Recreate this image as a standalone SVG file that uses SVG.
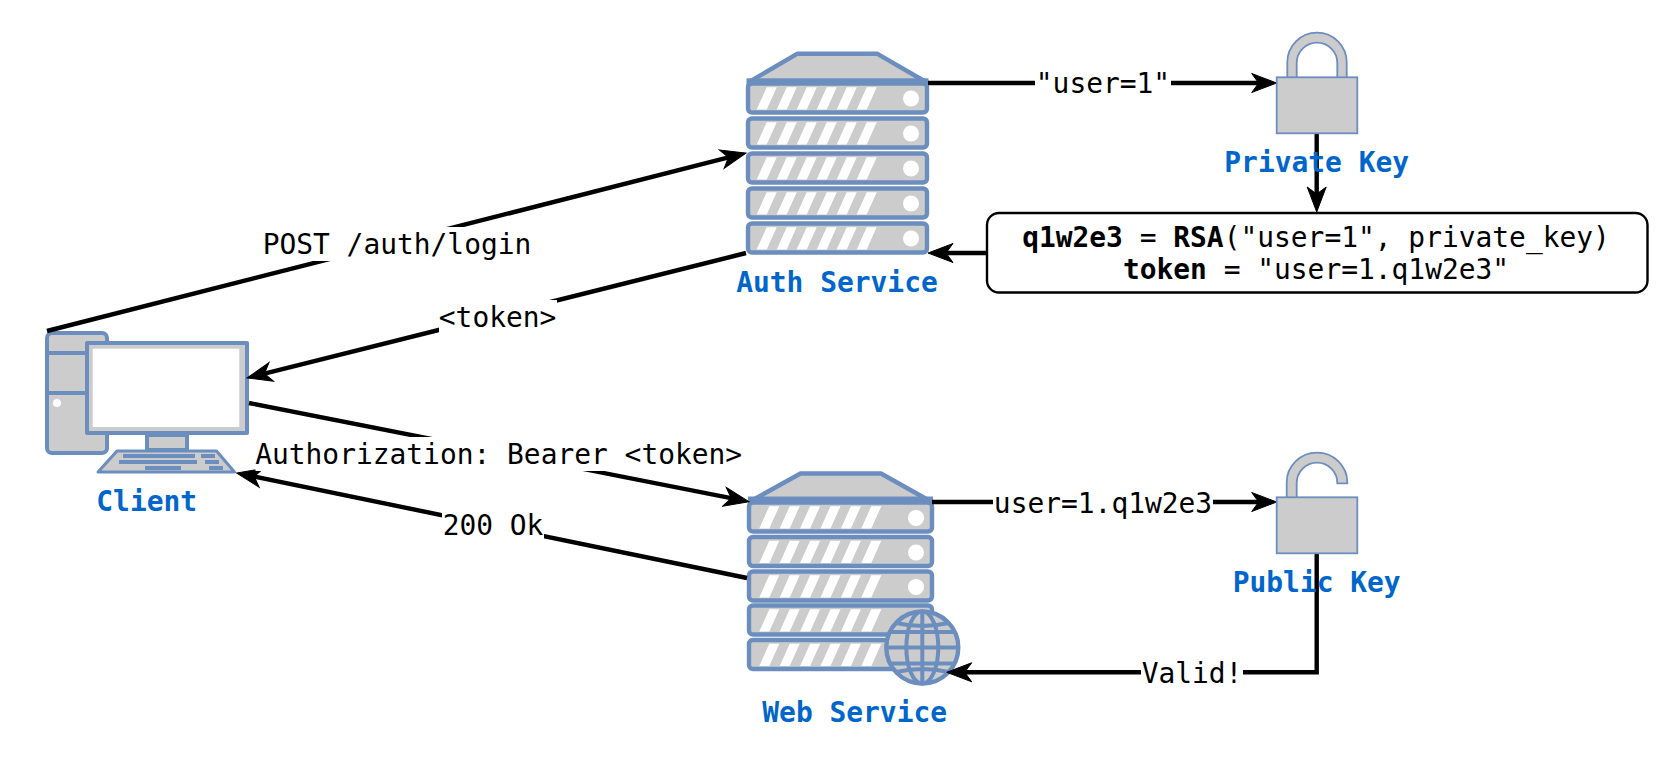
<svg xmlns="http://www.w3.org/2000/svg" width="1678" height="758" viewBox="0 0 1678 758">
<style>
.shape{fill:#cccccc;stroke:#6c8ebf;stroke-width:4.4;stroke-linejoin:round}
.pc{fill:#cccccc;stroke:#6c8ebf;stroke-width:4;stroke-linejoin:round}
.kb{fill:#cccccc;stroke:#6c8ebf;stroke-width:3;stroke-linejoin:round}
.thin{fill:#cccccc;stroke:#6c8ebf;stroke-width:1.8}
.bar{fill:#6c8ebf;stroke:none}
.hole{fill:#ffffff;stroke:none}
.line{fill:none;stroke:#000000;stroke-width:4.4}
.blue{fill:none;stroke:#6c8ebf;stroke-width:4}
.arrow{marker-end:url(#head)}
.mask{fill:#ffffff;stroke:none}
text{font-family:"DejaVu Sans Mono","Liberation Mono",monospace;font-size:27.9px;text-anchor:middle;fill:#000000}
.name{font-weight:bold;fill:#0066cc}
.b{font-weight:bold}
</style>
<defs>
<marker id="head" markerUnits="userSpaceOnUse" markerWidth="29" markerHeight="23" refX="9" refY="11" orient="auto" viewBox="0 0 29 22">
<path d="M1 1.500L26 11L1 20.500L8 11Z" fill="#000000" stroke="#000000" stroke-width="1" stroke-linejoin="miter"/>
</marker>
<g id="row-auth">
<rect class="shape" width="179" height="29" rx="4"/>
<path class="hole" d="M8.7 26h10l10-22.3h-10zM28.7 26h10l10-22.3h-10zM48.7 26h10l10-22.3h-10zM68.7 26h10l10-22.3h-10zM88.7 26h10l10-22.3h-10zM108.7 26h10l10-22.3h-10z"/>
<circle class="hole" cx="163" cy="15" r="8"/>
</g>
<g id="row-web">
<rect class="shape" width="183" height="29" rx="4"/>
<path class="hole" d="M10.3 26h10l10-22.3h-10zM30.7 26h10l10-22.3h-10zM51.1 26h10l10-22.3h-10zM71.5 26h10l10-22.3h-10zM91.9 26h10l10-22.3h-10zM112.3 26h10l10-22.3h-10z"/>
<circle class="hole" cx="167" cy="15.500" r="8"/>
</g>
</defs>
<rect width="1678" height="758" fill="#ffffff"/>
<g id="client">
<rect class="pc" x="47" y="333" width="60" height="120" rx="5"/>
<path class="blue" d="M47 353H87M47 393H87"/>
<circle class="hole" cx="57" cy="403" r="4"/>
<rect class="pc" x="87" y="343" width="160" height="90"/>
<rect class="hole" x="92.700" y="348.700" width="146.600" height="78.300"/>
<rect class="pc" x="147" y="435" width="40" height="15"/>
<path class="kb" d="M117 451H216.500L234.500 472H98Z"/>
<path class="bar" d="M123 454h72v4h-72zM201 454h14v4h-14zM119 460h78v4h-78zM205 460h14v4h-14zM145 466h36v4h-36zM209 466h14v4h-14z"/>
<text class="name" x="146.700" y="511">Client</text>
</g>
<g id="auth-service">
<path class="shape" d="M749 82L797.500 53.700H877L926 82Z"/>
<rect class="bar" x="746.500" y="78.300" width="182" height="8"/>
<use href="#row-auth" x="748" y="83.500"/>
<use href="#row-auth" x="748" y="118.500"/>
<use href="#row-auth" x="748" y="153.500"/>
<use href="#row-auth" x="748" y="188.500"/>
<use href="#row-auth" x="748" y="223.500"/>
<text class="name" x="837" y="291.700">Auth Service</text>
</g>
<g id="web-service">
<path class="shape" d="M751 501L800.500 473.500H881L930 501Z"/>
<rect class="bar" x="748" y="496.500" width="185" height="8"/>
<use href="#row-web" x="749" y="502.500"/>
<use href="#row-web" x="749" y="537"/>
<use href="#row-web" x="749" y="571.500"/>
<use href="#row-web" x="749" y="605.500"/>
<use href="#row-web" x="749" y="640"/>
<circle class="shape" cx="922.300" cy="647.500" r="36"/>
<path class="blue" d="M922.300 611.500V683.500M886.300 647.500H958.300M889 632H955.600M889 663.500H955.600M896 623Q922.300 629 948.600 623M896 672Q922.300 666 948.600 672"/>
<ellipse class="blue" cx="922.300" cy="647.500" rx="16" ry="36"/>
<text class="name" x="854.700" y="721.700">Web Service</text>
</g>
<g id="connectors">
<path class="line arrow" d="M47 331L729.500 157.200"/>
<path class="line arrow" d="M746 253L263.500 373.900"/>
<path class="line arrow" d="M249 403L732.300 498.400"/>
<path class="line arrow" d="M747 578L253.300 476.400"/>
<path class="line arrow" d="M928 83H1259.700"/>
<path class="line arrow" d="M1316.700 133V195"/>
<path class="line arrow" d="M987 253H945"/>
<path class="line arrow" d="M932 502H1259.700"/>
<path class="line arrow" d="M1316.700 553V672.300H963.700"/>
<rect class="mask" x="263.500" y="227" width="269" height="34"/>
<text x="397" y="253.500">POST /auth/login</text>
<rect class="mask" x="439" y="300" width="118" height="34"/>
<text x="497.600" y="326.500">&lt;token&gt;</text>
<rect class="mask" x="255.500" y="437" width="486" height="34"/>
<text x="498.700" y="463.500">Authorization: Bearer &lt;token&gt;</text>
<rect class="mask" x="442" y="508" width="102" height="34"/>
<text x="493" y="534.500">200 Ok</text>
<rect class="mask" x="1035" y="67" width="136" height="34"/>
<text x="1103" y="93">"user=1"</text>
<rect class="mask" x="993" y="486" width="220" height="34"/>
<text x="1103" y="512.500">user=1.q1w2e3</text>
<rect class="mask" x="1141" y="656" width="102" height="34"/>
<text x="1192" y="682.500">Valid!</text>
</g>
<g id="private-key">
<path class="thin" d="M1287.300 78V62.400a29.700 29.700 0 0 1 59.400 0V78H1337.300V63a20.300 20.300 0 0 0 -40.600 0V78Z"/>
<rect class="thin" x="1276.700" y="77.300" width="80.600" height="56"/>
<text class="name" x="1316.700" y="171.700">Private Key</text>
</g>
<g id="public-key">
<path class="thin" d="M1286.700 498V482.400a30.300 29.700 0 0 1 60.600 0V483.300H1337.300V483a20.300 20.300 0 0 0 -40.600 0V498Z"/>
<rect class="thin" x="1276.700" y="497.300" width="80.600" height="56"/>
<text class="name" x="1316.700" y="591.700">Public Key</text>
</g>
<g id="token-box">
<rect x="987" y="213" width="660.500" height="79.500" rx="12" fill="#ffffff" stroke="#000000" stroke-width="2.400"/>
<text x="1316" y="247"><tspan class="b">q1w2e3</tspan> = <tspan class="b">RSA</tspan>("user=1", private_key)</text>
<text x="1316" y="279"><tspan class="b">token</tspan> = "user=1.q1w2e3"</text>
</g>
</svg>
